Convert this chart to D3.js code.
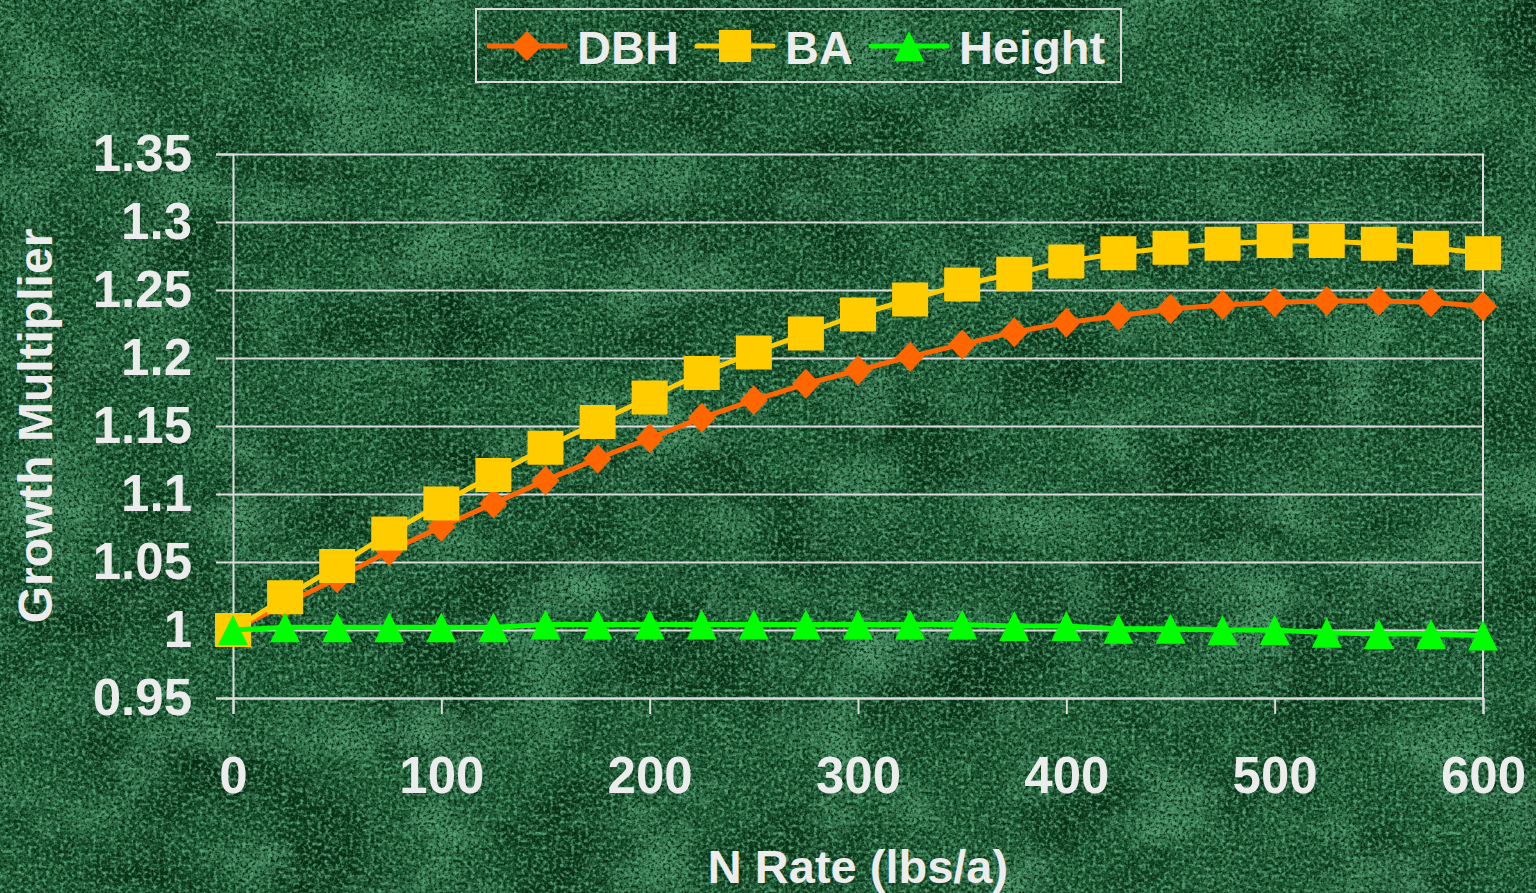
<!DOCTYPE html>
<html>
<head>
<meta charset="utf-8">
<script src="https://cdnjs.cloudflare.com/ajax/libs/d3/7.8.5/d3.min.js"></script>
<style>
  html, body { margin: 0; padding: 0; background: #1b5732; overflow: hidden; }
  svg { display: block; }
  text { font-family: "Liberation Sans", Arial, sans-serif; font-weight: bold; fill: #ececec; }
</style>
</head>
<body>
<div id="chart"></div>
<script>
// data
var nRate = [0, 25, 50, 75, 100, 125, 150, 175, 200, 225, 250, 275, 300,
             325, 350, 375, 400, 425, 450, 475, 500, 525, 550, 575, 600];
var dbh = [1.000, 1.019, 1.038, 1.058, 1.076, 1.093, 1.110, 1.126, 1.141, 1.156, 1.169, 1.181, 1.191,
           1.201, 1.210, 1.219, 1.226, 1.231, 1.236, 1.239, 1.241, 1.242, 1.242, 1.241, 1.238];
var ba = [1.000, 1.024, 1.047, 1.071, 1.093, 1.114, 1.134, 1.153, 1.171, 1.189, 1.204, 1.218, 1.232,
          1.243, 1.254, 1.262, 1.271, 1.277, 1.281, 1.284, 1.286, 1.286, 1.284, 1.281, 1.277];
var heightVals = [1.000, 1.002, 1.002, 1.002, 1.002, 1.002, 1.004, 1.004, 1.004, 1.004, 1.004, 1.004, 1.004,
                  1.004, 1.004, 1.003, 1.003, 1.001, 1.001, 1.000, 1.000, 0.998, 0.997, 0.997, 0.996];
var seriesNames = ["DBH", "BA", "Height"];
var yTicks = [0.95, 1, 1.05, 1.1, 1.15, 1.2, 1.25, 1.3, 1.35];
var yTickLabels = ["0.95", "1", "1.05", "1.1", "1.15", "1.2", "1.25", "1.3", "1.35"];
var xTicks = [0, 100, 200, 300, 400, 500, 600];

var svgWidth = 1536;
var svgHeight = 893;

var margin = { top: 154, right: 53, bottom: 195, left: 233 };
var width = svgWidth - margin.left - margin.right;
var height = svgHeight - margin.top - margin.bottom;

var colors = { DBH: "#ff6600", BA: "#ffcc00", Height: "#00ff00" };
var gridColor = "#dcdcdc";

var svg = d3.select("#chart")
  .append("svg")
  .attr("width", svgWidth)
  .attr("height", svgHeight);

/////////// marble background ///////////
var defs = svg.append("defs");

// one noise layer = turbulence -> single colour with noise-driven alpha
function noiseLayer(id, type, freq, octaves, seed, rgb, alphaRow) {
  var f = defs.append("filter")
    .attr("id", id)
    .attr("x", 0).attr("y", 0).attr("width", "100%").attr("height", "100%")
    .attr("color-interpolation-filters", "sRGB");
  f.append("feTurbulence")
    .attr("type", type)
    .attr("baseFrequency", freq)
    .attr("numOctaves", octaves)
    .attr("seed", seed);
  f.append("feColorMatrix")
    .attr("type", "matrix")
    .attr("values", `0 0 0 0 ${rgb[0]}  0 0 0 0 ${rgb[1]}  0 0 0 0 ${rgb[2]}  ${alphaRow}`);
  svg.append("rect")
    .attr("width", svgWidth)
    .attr("height", svgHeight)
    .attr("filter", `url(#${id})`);
}

svg.append("rect")
  .attr("width", svgWidth)
  .attr("height", svgHeight)
  .attr("fill", "#1b5732");

// darker blotches
noiseLayer("darkPatch", "fractalNoise", "0.008 0.011", 4, 9, [0.02, 0.17, 0.07], "2.6 0 0 0 -1.15");
// lighter cloudy patches
noiseLayer("lightPatch", "fractalNoise", "0.010 0.013", 4, 3, [0.33, 0.62, 0.45], "2.4 0 0 0 -1.2");
// fine light veins
noiseLayer("veins", "turbulence", "0.035 0.045", 3, 21, [0.40, 0.70, 0.52], "-3.2 0 0 0 0.55");
// grain
noiseLayer("grainDark", "fractalNoise", "0.35", 2, 5, [0.01, 0.16, 0.06], "3.0 0 0 0 -1.25");
noiseLayer("grainLight", "fractalNoise", "0.28", 2, 15, [0.36, 0.66, 0.48], "2.6 0 0 0 -1.15");

var chartGroup = svg.append("g")
  .attr("transform", `translate(${margin.left}, ${margin.top})`);

/////////// scales and axes ///////////
var xLinearScale = d3.scaleLinear().domain([0, 600]).range([0, width]);
var yLinearScale = d3.scaleLinear().domain([0.95, 1.35]).range([height, 0]);

// horizontal gridlines
var grid = chartGroup.append("g")
  .call(d3.axisLeft(yLinearScale).tickValues(yTicks).tickSize(-width).tickFormat(""));
grid.select(".domain").remove();
grid.selectAll("line").attr("stroke", gridColor).attr("stroke-width", 2);

// right border
chartGroup.append("line")
  .attr("x1", width).attr("x2", width)
  .attr("y1", 0).attr("y2", height)
  .attr("stroke", gridColor).attr("stroke-width", 2);

var leftAxis = chartGroup.append("g")
  .call(d3.axisLeft(yLinearScale)
    .tickValues(yTicks)
    .tickSize(17)
    .tickPadding(24)
    .tickFormat((d, i) => yTickLabels[i]));

var bottomAxis = chartGroup.append("g")
  .attr("transform", `translate(0, ${height})`)
  .call(d3.axisBottom(xLinearScale)
    .tickValues(xTicks)
    .tickSize(16)
    .tickPadding(43)
    .tickFormat(d3.format("d")));

[leftAxis, bottomAxis].forEach(function(ax) {
  ax.select(".domain").attr("stroke", gridColor).attr("stroke-width", 2);
  ax.selectAll("line").attr("stroke", gridColor).attr("stroke-width", 2);
  ax.selectAll("text")
    .style("font-size", "51px")
    .style("font-family", "'Liberation Sans', Arial, sans-serif")
    .style("font-weight", "bold")
    .attr("fill", "#ececec");
});

// axis titles
chartGroup.append("text")
  .attr("x", width / 2)
  .attr("y", height + 185)
  .attr("text-anchor", "middle")
  .style("font-size", "47px")
  .text("N Rate (lbs/a)");

chartGroup.append("text")
  .attr("transform", `translate(${52 - margin.left}, ${height / 2}) rotate(-90)`)
  .attr("text-anchor", "middle")
  .style("font-size", "48px")
  .text("Growth Multiplier");

/////////// series ///////////
var diamondPath = "M0,-15L14,0L0,15L-14,0Z";
var squarePath = "M-18,-17H18V17H-18Z";
var trianglePath = "M0,-15L15,15L-15,15Z";

var series = [
  { name: "DBH", values: dbh, marker: diamondPath },
  { name: "BA", values: ba, marker: squarePath },
  { name: "Height", values: heightVals, marker: trianglePath }
];

var lineGen = d3.line()
  .x((d, i) => xLinearScale(nRate[i]))
  .y(d => yLinearScale(d));

series.forEach(function(s) {
  var g = chartGroup.append("g").attr("class", "series-" + s.name);
  g.append("path")
    .datum(s.values)
    .attr("d", lineGen)
    .attr("fill", "none")
    .attr("stroke", colors[s.name])
    .attr("stroke-width", 5)
    .attr("stroke-linejoin", "round");
  g.selectAll(".marker")
    .data(s.values)
    .enter()
    .append("path")
    .attr("class", "marker")
    .attr("d", s.marker)
    .attr("transform", (d, i) => `translate(${xLinearScale(nRate[i])}, ${yLinearScale(d)})`)
    .attr("fill", colors[s.name]);
});

/////////// legend ///////////
var legend = svg.append("g");
legend.append("rect")
  .attr("x", 476).attr("y", 9)
  .attr("width", 645).attr("height", 73)
  .attr("fill", "none")
  .attr("stroke", gridColor)
  .attr("stroke-width", 2);

var legendX = [489, 697, 871];
var legendMarkers = {
  DBH: "M0,-15L15,0L0,15L-15,0Z",
  BA: "M-16,-16H16V16H-16Z",
  Height: "M0,-15L15,15L-15,15Z"
};
seriesNames.forEach(function(name, i) {
  var item = legend.append("g")
    .attr("transform", `translate(${legendX[i]}, 46)`);
  item.append("line")
    .attr("x1", 0).attr("x2", 76)
    .attr("stroke", colors[name])
    .attr("stroke-width", 5)
    .attr("stroke-linecap", "round");
  item.append("path")
    .attr("d", legendMarkers[name])
    .attr("transform", "translate(38, 0)")
    .attr("fill", colors[name]);
  item.append("text")
    .attr("x", 88)
    .attr("y", 18)
    .style("font-size", "47px")
    .text(name);
});
</script>
</body>
</html>
